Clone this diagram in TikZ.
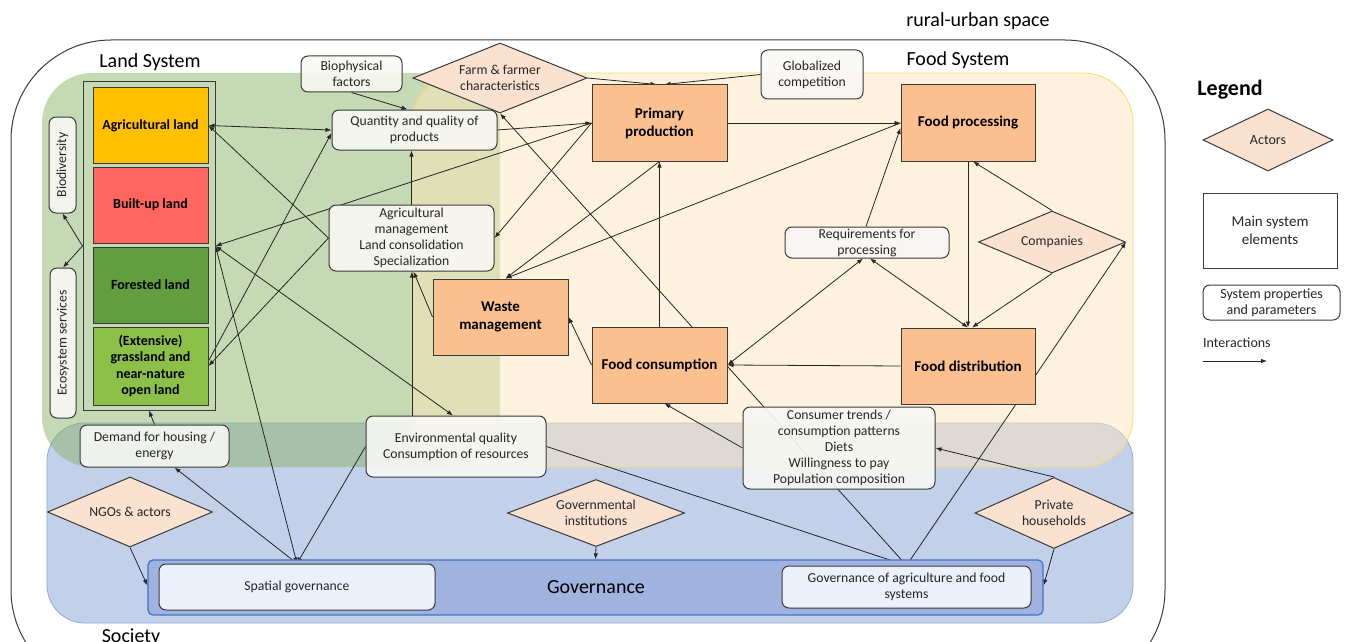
\documentclass[tikz,border=0pt]{standalone}
\usepackage{fontspec}
\setmainfont{Carlito}
\usetikzlibrary{shapes.geometric,arrows.meta}
\pgfdeclarelayer{bg}
\pgfdeclarelayer{lines}
\pgfsetlayers{bg,lines,main}
\definecolor{linec}{HTML}{262626}
\definecolor{boxline}{HTML}{3A3A3A}
\definecolor{textc}{HTML}{262626}
\definecolor{orangef}{HTML}{FAC090}
\definecolor{actorf}{HTML}{FBE2D0}
\definecolor{propf}{HTML}{F8F8F4}
\definecolor{societyf}{HTML}{C2D0EA}
\definecolor{societyd}{HTML}{8FAADC}
\definecolor{landf}{HTML}{8BB369}
\definecolor{foodf}{HTML}{FBE5BD}
\definecolor{foodd}{HTML}{FFD966}
\definecolor{govf}{HTML}{9FB2E0}
\definecolor{govd}{HTML}{4472C4}
\definecolor{govboxf}{HTML}{ECF0F9}
\definecolor{agric}{HTML}{FFC000}
\definecolor{builtc}{HTML}{FF665F}
\definecolor{forestc}{HTML}{629E40}
\definecolor{grassc}{HTML}{8CC048}
\newcommand{\fsz}{\fontsize{13.7}{16}\selectfont}
\newcommand{\fmain}{\fontsize{15}{18}\selectfont}
\newcommand{\fland}{\fontsize{14}{16.5}\selectfont}
\newcommand{\fbig}{\fontsize{20}{24}\selectfont}
\begin{document}
\begin{tikzpicture}[x=1pt,y=-1pt,
  arr/.style={draw=linec, line width=0.8pt, -{Latex[length=6pt,width=4.5pt]}},
  darr/.style={draw=linec, line width=0.8pt, {Latex[length=6pt,width=4.5pt]}-{Latex[length=6pt,width=4.5pt]}},
  mainbox/.style={draw=boxline, line width=1pt, fill=orangef, font=\bfseries\fmain, align=center, inner sep=2pt, text=black, minimum width=135, minimum height=76},
  propbox/.style={draw=boxline, line width=1pt, rounded corners=7pt, fill=propf, fill opacity=0.9, text opacity=1, font=\fsz, align=center, text=textc, inner sep=1pt},
  actor/.style={diamond, draw=boxline, line width=1pt, fill=actorf, aspect=2.5, inner sep=0pt, font=\fsz, align=center, text=textc},
  landbox/.style={draw=boxline, line width=1pt, font=\bfseries\fland, align=center, text=black, minimum width=115, inner sep=1pt},
  title/.style={font=\fbig, text=black}
]
\useasboundingbox (0,0) rectangle (1353,642);
\begin{pgfonlayer}{bg}
  % outer space
  \draw[boxline, line width=1pt, rounded corners=100pt] (11,40) rectangle (1165,690);
  % society
  \draw[societyd, fill=societyf, line width=0.8pt, rounded corners=38pt] (47,423) rectangle (1133,623);
  % land system
  \fill[landf, fill opacity=0.5, rounded corners=50pt] (42,73) rectangle (500,467);
  % food system
  \draw[foodd, fill=foodf, fill opacity=0.5, line width=0.8pt, rounded corners=50pt] (412,73) rectangle (1133,467);
\end{pgfonlayer}

% titles
\node[title] (trural) at (978,21) {rural-urban space};
\node[title] (tland) at (150,62) {Land System};
\node[title] (tfood) at (958,60) {Food System};
\node[title, anchor=base] (tsoc) at (131,642) {Society};
\node[font=\bfseries\fontsize{22}{26}\selectfont] (tleg) at (1230,90) {Legend};

% governance band
\node[draw=govd, fill=govf, line width=1.2pt, rounded corners=5pt, minimum width=895, minimum height=55] (govband) at (595.5,587.5) {};
\node[title] (tgov) at (596,587) {Governance};
\node[propbox, fill=govboxf, fill opacity=1, minimum width=276, minimum height=46] (spatial) at (297,587) {Spatial governance};
\node[propbox, fill=govboxf, fill opacity=1, minimum width=249, minimum height=42] (govagri) at (906.5,587) {Governance of agriculture and food\\systems};

% land column
\node[draw=boxline, line width=1pt, minimum width=132, minimum height=328] (landframe) at (149,246) {};
\node[landbox, fill=agric, minimum height=75] (agri) at (150.5,125.5) {Agricultural land};
\node[landbox, fill=builtc, minimum height=76] (built) at (150.5,205) {Built-up land};
\node[landbox, fill=forestc, minimum height=76] (forest) at (150.5,285) {Forested land};
\node[landbox, fill=grassc, minimum height=78] (grass) at (150.5,366) {(Extensive)\\grassland and\\near-nature\\open land};
\node[propbox, rotate=90, minimum width=96, minimum height=27] (bio) at (62.5,165) {Biodiversity};
\node[propbox, rotate=90, minimum width=150, minimum height=26] (eco) at (63,343) {Ecosystem services};
\node[propbox, minimum width=149, minimum height=42] (demand) at (154.5,446) {Demand for housing /\\energy};

% property boxes
\node[propbox, minimum width=101, minimum height=36] (bioph) at (351.5,74) {Biophysical\\factors};
\node[propbox, minimum width=165, minimum height=40] (qty) at (414.5,130) {Quantity and quality of\\products};
\node[propbox, minimum width=165, minimum height=66] (mgmt) at (411.5,238) {Agricultural\\management\\Land consolidation\\Specialization};
\node[propbox, minimum width=102, minimum height=49] (glob) at (812,74.5) {Globalized\\competition};
\node[propbox, minimum width=164, minimum height=31] (req) at (867,242.5) {Requirements for\\processing};
\node[propbox, minimum width=180, minimum height=61] (env) at (456,446.5) {Environmental quality\\Consumption of resources};
\node[propbox, minimum width=192, minimum height=82] (trends) at (839,448) {Consumer trends /\\consumption patterns\\Diets\\Willingness to pay\\Population composition};

% main system elements
\node[mainbox] (pp) at (659.5,123) {Primary\\production};
\node[mainbox, minimum width=134] (fp) at (968,123) {Food processing};
\node[mainbox] (waste) at (500.5,317) {Waste\\management};
\node[mainbox] (cons) at (659.5,365) {Food consumption};
\node[mainbox, minimum width=134] (dist) at (968,366) {Food distribution};

% actors
\node[actor, minimum width=174, minimum height=70] (farm) at (500,78) {Farm \& farmer\\characteristics};
\node[actor, minimum width=147, minimum height=62] (comp) at (1052,242) {Companies};
\node[actor, minimum width=165, minimum height=70] (ngo) at (130,512) {NGOs \& actors};
\node[actor, minimum width=177, minimum height=67] (govinst) at (596,513) {Governmental\\institutions};
\node[actor, minimum width=158, minimum height=71] (priv) at (1054,513) {Private\\households};

% legend
\node[actor, font=\fontsize{14}{17}\selectfont, minimum width=130, minimum height=62] (legact) at (1268,140) {Actors};
\node[draw=boxline, line width=1pt, fill=white, font=\fontsize{15}{18}\selectfont, align=center, text=textc, minimum width=134, minimum height=75] (legmain) at (1270,230.5) {Main system\\elements};
\node[propbox, fill=white, font=\fontsize{14}{16}\selectfont, minimum width=137, minimum height=35] (legprop) at (1271.5,302.5) {System properties\\and parameters};
\node[font=\fontsize{14}{16}\selectfont, text=textc, anchor=west, inner sep=0pt] (legint) at (1203,343) {Interactions};
\coordinate (la) at (1203,361);
\coordinate (lb) at (1267,361);

\begin{pgfonlayer}{lines}
  \draw[arr] (la) -- (lb);
  % land system
  \draw[darr] (agri.east) -- (qty.west);
  \draw[arr] (mgmt.west) -- (agri.east);
  \draw[arr] (mgmt.west) -- (grass.east);
  \draw[arr] ([yshift=5pt]grass.east) -- ([yshift=-3pt]qty.west);
  \draw[arr] (pp.west) -- (landframe.east);
  \draw[darr] (landframe.east) -- ([xshift=-3pt]env.north);
  \draw[darr] (landframe.east) -- (spatial.north);
  \draw[arr] (landframe.west) -- (bio.west);
  \draw[arr] (landframe.west) -- (eco.east);
  \draw[arr] (demand.north) -- (landframe.south);
  % society
  \draw[arr] (spatial.north) -- ([xshift=20pt]demand.south);
  \draw[arr] (env.west) -- (spatial.north);
  \draw[arr] (ngo.south) -- ([yshift=2pt]govband.west);
  \draw[arr] (priv.south) -- ([yshift=2pt]govband.east);
  \draw[arr] (govinst.south) -- (govband.north);
  \draw[arr] (env.east) -- (govagri.north);
  \draw[arr] (govagri.north) -- (farm.south);
  \draw[arr] (govagri.north) -- (comp.east);
  \draw[arr] (priv.north) -- (trends.east);
  \draw[arr] (trends.west) -- ([xshift=5pt]cons.south);
  % production
  \draw[arr] (bioph.south) -- ([xshift=-7pt]qty.north);
  \draw[arr] (mgmt.north) -- (mgmt.north |- qty.south);
  \draw[arr] ([xshift=-44pt]env.north) -- ([xshift=-44pt]env.north |- mgmt.south);
  \draw[arr] (waste.west) -- ([xshift=2pt]mgmt.south);
  \draw[arr] (qty.east) -- (pp.west);
  \draw[arr] (pp.west) -- (mgmt.east);
  \draw[arr] (farm.east) -- ([xshift=-3pt]pp.north);
  \draw[arr] (glob.west) -- ([xshift=5pt]pp.north);
  \draw[arr] (cons.north) -- (pp.south);
  \draw[arr] (pp.south) -- ([xshift=5pt]waste.north);
  \draw[arr] (fp.west) -- ([xshift=5pt]waste.north);
  \draw[arr] (pp.east) -- (fp.west);
  \draw[arr] ([xshift=-1pt]req.north) -- ([yshift=-5pt]fp.west);
  % processing and distribution
  \draw[arr] (fp.south) -- (dist.north);
  \draw[arr] (comp.north) -- ([xshift=5pt]fp.south);
  \draw[arr] (comp.south) -- ([xshift=4pt]dist.north);
  \draw[darr] (dist.north) -- ([xshift=3pt]req.south);
  \draw[darr] (cons.east) -- ([xshift=-4pt]req.south);
  \draw[arr] (dist.west) -- (cons.east);
  \draw[arr] (cons.west) -- (waste.east);
\end{pgfonlayer}
\end{tikzpicture}
\end{document}
